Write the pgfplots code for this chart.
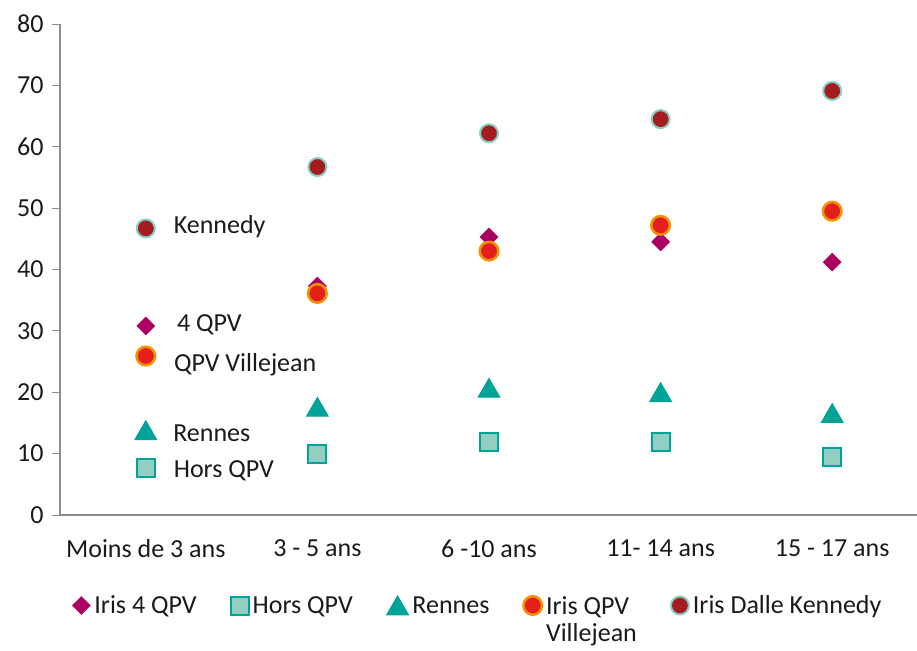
\documentclass[border=0pt]{standalone}
\usepackage{fontspec}
\setmainfont{Carlito}
\usepackage{pgfplots}
\pgfplotsset{compat=1.18}
\definecolor{kenfill}{HTML}{A51C20}
\definecolor{kenring}{HTML}{86CFC3}
\definecolor{vilfill}{HTML}{E3201B}
\definecolor{vilring}{HTML}{F39200}
\definecolor{qpvfour}{HTML}{AB0062}
\definecolor{rennes}{HTML}{00A398}
\definecolor{horsfill}{HTML}{93CEC3}
\definecolor{axisgray}{HTML}{8C8C8C}
\definecolor{txt}{HTML}{1A1A1A}
\begin{document}
\begin{tikzpicture}
\useasboundingbox (-60pt,-135pt) rectangle (857pt,515pt);
\begin{axis}[
  scale only axis, width=858pt, height=491pt,
  xmin=-0.5, xmax=4.5, ymin=0, ymax=80,
  ytick={0,10,...,80},
  xtick={0,1,2,3,4},
  xticklabels={Moins de 3 ans, 3 - 5 ans, 6 -10 ans, 11- 14 ans, 15 - 17 ans},
  major x tick style={draw=none},
  extra x ticks={-0.5,0.5,1.5,2.5,3.5,4.5},
  extra x tick labels={},
  extra x tick style={major tick length=7pt, tick style={draw=axisgray, line width=1pt}},
  tick align=outside,
  major tick length=8pt,
  ytick style={draw=axisgray, line width=1pt},
  axis x line*=bottom, axis y line*=left,
  axis line style={draw=axisgray, line width=1.2pt, -},
  tick label style={font=\fontsize{26}{31}\selectfont, text=txt},
  /pgf/number format/assume math mode=true,
  yticklabel style={xshift=-5pt},
  xticklabel style={yshift=-13pt},
  legend style={at={(0.487,-0.155)}, anchor=north, draw=none, fill=none,
    font=\fontsize{26}{27}\selectfont, text=txt, legend columns=5,
    nodes={inner sep=2pt},
    /tikz/every odd column/.append style={column sep=2pt},
    /tikz/every even column/.append style={column sep=32pt}},
  legend cell align=left,
  legend image code/.code={\draw[mark repeat=1,mark phase=1,#1] plot coordinates {(0pt,0pt)};},
  point meta=explicit symbolic,
  nodes near coords,
  every node near coord/.append style={anchor=base west, inner sep=2pt, xshift=25pt,
    font=\fontsize{26}{31}\selectfont, text=txt},
]
\addplot[only marks, mark=square*, mark size=6.4pt, mark options={rotate=45, fill=qpvfour, draw=qpvfour},
  every node near coord/.append style={yshift=-6pt, xshift=4pt}]
  coordinates {(0,30.8)[4 QPV] (1,37.3)[] (2,45.3)[] (3,44.5)[] (4,41.2)[]};
\addlegendentry{Iris 4 QPV}
\addplot[only marks, mark=square*, mark size=9pt, mark options={fill=horsfill, draw=rennes, line width=2pt},
  every node near coord/.append style={yshift=-9pt}]
  coordinates {(0,7.6)[Hors QPV] (1,9.9)[] (2,11.9)[] (3,11.9)[] (4,9.4)[]};
\addlegendentry{Hors QPV}
\addplot[only marks, mark=triangle*, mark size=12.5pt, mark options={fill=rennes, draw=rennes, line width=1pt, yshift=-3pt},
  every node near coord/.append style={yshift=-8pt}]
  coordinates {(0,13.8)[Rennes] (1,17.6)[] (2,20.7)[] (3,20.0)[] (4,16.6)[]};
\addlegendentry{Rennes}
\addplot[only marks, mark=*, mark size=9.3pt, mark options={fill=vilfill, draw=vilring, line width=2.5pt},
  every node near coord/.append style={yshift=-15pt}]
  coordinates {(0,25.9)[QPV Villejean] (1,36.1)[] (2,43.0)[] (3,47.2)[] (4,49.5)[]};
\addlegendentry{\begin{tabular}[t]{@{}l@{}}Iris QPV\\Villejean\end{tabular}}
\addplot[only marks, mark=*, mark size=9pt, mark options={fill=kenfill, draw=kenring, line width=2pt},
  every node near coord/.append style={yshift=-5pt}]
  coordinates {(0,46.7)[Kennedy] (1,56.7)[] (2,62.2)[] (3,64.5)[] (4,69.1)[]};
\addlegendentry{Iris Dalle Kennedy}
\end{axis}
\end{tikzpicture}
\end{document}
